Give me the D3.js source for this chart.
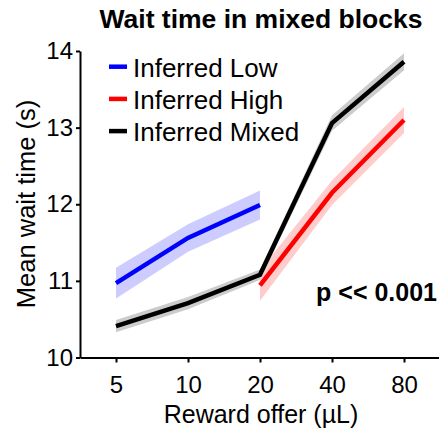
<!DOCTYPE html>
<html>
<head>
<meta charset="utf-8">
<script src="https://cdn.jsdelivr.net/npm/d3@7"></script>
<style>
  body { margin: 0; background: #fff; }
  svg { display: block; font-family: "Liberation Sans", Arial, sans-serif; }
</style>
</head>
<body>
<svg id="chart" width="439" height="432"></svg>
<script>
// Reward offers (x categories)
var rewards = ["5", "10", "20", "40", "80"];
var yTicks = [10, 11, 12, 13, 14];

// Mean wait time per series, with error band half-widths
var lowRewards = ["5", "10", "20"];
var lowMean = [10.97, 11.56, 11.99];
var lowSem = [0.2, 0.18, 0.19];

var highRewards = ["20", "40", "80"];
var highMean = [10.94, 12.15, 13.1];
var highSem = [0.2, 0.16, 0.17];

var mixedRewards = ["5", "10", "20", "40", "80"];
var mixedMean = [10.41, 10.71, 11.08, 13.06, 13.86];
var mixedSem = [0.08, 0.08, 0.07, 0.1, 0.11];

var seriesNames = ["Inferred Low", "Inferred High", "Inferred Mixed"];

function build(xs, means, sems) {
  return xs.map(function(x, i) {
    return { x: x, m: means[i], s: sems[i] };
  });
}

var series = [
  { name: seriesNames[0], colour: "#0000ff", band: "#ccccff", data: build(lowRewards, lowMean, lowSem) },
  { name: seriesNames[1], colour: "#ff0000", band: "#ffcccc", data: build(highRewards, highMean, highSem) },
  { name: seriesNames[2], colour: "#000000", band: "#cccccc", data: build(mixedRewards, mixedMean, mixedSem) }
];

var svg = d3.select("#chart");

// Scales
var x = d3.scalePoint()
  .domain(rewards)
  .range([80, 440])
  .padding(0.5);

var y = d3.scaleLinear()
  .domain([10, 14])
  .range([357.5, 51]);

// Error bands
var area = d3.area()
  .x(function(d) { return x(d.x); })
  .y0(function(d) { return y(d.m - d.s); })
  .y1(function(d) { return y(d.m + d.s); });

svg.append("g").selectAll("path")
  .data(series)
  .enter().append("path")
  .attr("d", function(d) { return area(d.data); })
  .attr("fill", function(d) { return d.band; });

// Mean lines
var line = d3.line()
  .x(function(d) { return x(d.x); })
  .y(function(d) { return y(d.m); });

svg.append("g").selectAll("path")
  .data(series)
  .enter().append("path")
  .attr("d", function(d) { return line(d.data); })
  .attr("fill", "none")
  .attr("stroke", function(d) { return d.colour; })
  .attr("stroke-width", 4.5);

// Axes
var xAxis = svg.append("g")
  .attr("transform", "translate(0," + y(10) + ")")
  .call(d3.axisBottom(x).tickSize(5).tickSizeOuter(0).tickPadding(8));

var yAxis = svg.append("g")
  .attr("transform", "translate(80,0)")
  .call(d3.axisLeft(y).tickValues(yTicks).tickFormat(d3.format("d"))
    .tickSize(4).tickSizeOuter(0).tickPadding(3));

[xAxis, yAxis].forEach(function(a) {
  a.select(".domain").attr("stroke-width", 2);
  a.selectAll(".tick line").attr("stroke-width", 2);
  a.selectAll(".tick text")
    .attr("fill", "#000")
    .style("font-family", "Liberation Sans, Arial, sans-serif")
    .style("font-size", "24px");
});
xAxis.selectAll(".tick text").attr("dy", "0.95em");

// Axis labels
svg.append("text")
  .attr("x", 261)
  .attr("y", 423)
  .attr("text-anchor", "middle")
  .style("font-size", "25px")
  .text("Reward offer (\u00b5L)");

svg.append("text")
  .attr("transform", "translate(35,204) rotate(-90)")
  .attr("text-anchor", "middle")
  .style("font-size", "25.5px")
  .text("Mean wait time (s)");

// Title
svg.append("text")
  .attr("x", 261)
  .attr("y", 28)
  .attr("text-anchor", "middle")
  .style("font-size", "26.5px")
  .style("font-weight", "bold")
  .text("Wait time in mixed blocks");

// p value
svg.append("text")
  .attr("x", 437)
  .attr("y", 301)
  .attr("text-anchor", "end")
  .style("font-size", "25px")
  .style("font-weight", "bold")
  .text("p << 0.001");

// Legend
var legendG = svg.selectAll(".legend")
  .data(series)
  .enter().append("g")
  .attr("class", "legend")
  .attr("transform", function(d, i) {
    return "translate(109," + (66.7 + i * 32.2) + ")";
  });

legendG.append("line")
  .attr("x1", 0)
  .attr("x2", 18)
  .attr("stroke", function(d) { return d.colour; })
  .attr("stroke-width", 4.5);

legendG.append("text")
  .attr("x", 24)
  .attr("y", 10)
  .style("font-size", "26px")
  .text(function(d) { return d.name; });
</script>
</body>
</html>
